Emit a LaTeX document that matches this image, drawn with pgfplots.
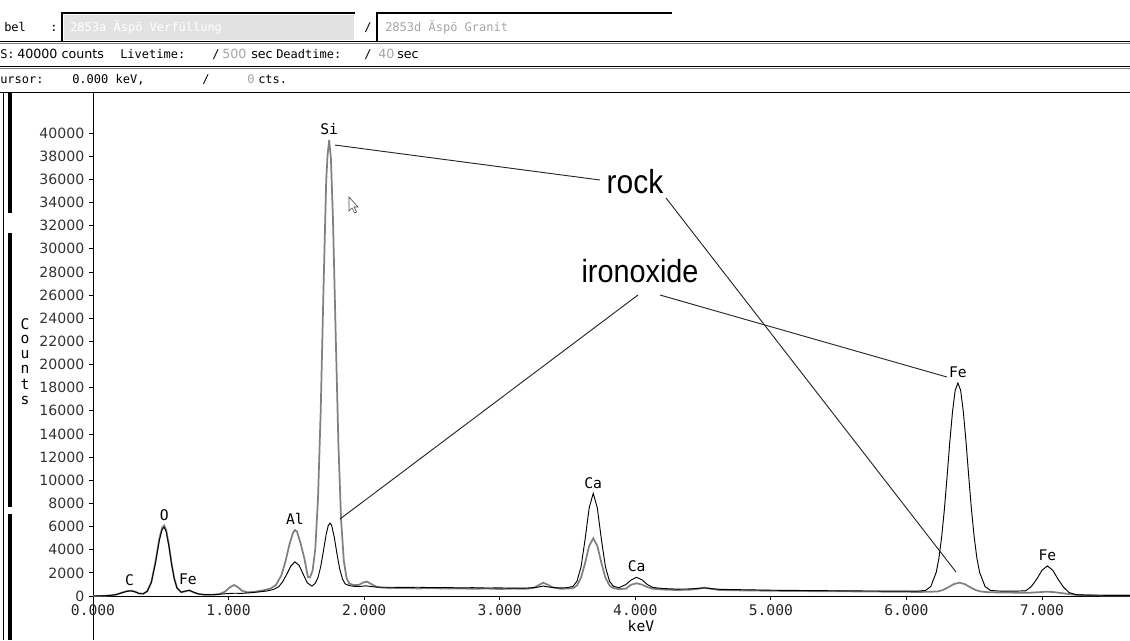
\documentclass[border=0pt]{standalone}
\usepackage{pgfplots}
\pgfplotsset{compat=1.18}
\usepackage{fontspec}
\setmainfont{DejaVu Sans}
\newfontfamily\mono{DejaVu Sans Mono}
\newfontfamily\arialf{Liberation Sans}
\definecolor{rockgray}{RGB}{128,128,128}
\definecolor{boxgray}{RGB}{226,226,226}
\definecolor{txtgray}{RGB}{165,165,165}
\newcommand{\hdr}{\mono\fontsize{9}{10}\selectfont}
\newcommand{\hdrs}{\fontsize{9.5}{10}\selectfont}
\newcommand{\pk}{\mono\fontsize{11}{12}\selectfont}

\begin{document}
\begin{tikzpicture}
\useasboundingbox (0,0) rectangle (847.5pt,-480pt);

% ---------- window header and frame (pixel units, y downward) ----------
\begin{scope}[x=0.75pt,y=-0.75pt]
  % label fields
  \fill[boxgray] (64,15) rectangle (354,40);
  \draw[line width=1.2pt] (62,41) -- (62,13) -- (355,13);
  \draw[line width=1.2pt] (377,41) -- (377,13) -- (672,13);
  \node[anchor=base west, inner sep=0, font=\hdr] at (4,31) {bel};
  \node[anchor=base west, inner sep=0, font=\hdr] at (50,31) {:};
  \node[anchor=base west, inner sep=0, font=\hdr, white] at (70,31) {2853a Äspö Verfüllung};
  \node[anchor=base west, inner sep=0, font=\hdr] at (364,31) {/};
  \node[anchor=base west, inner sep=0, font=\hdr, txtgray] at (385,31) {2853d Äspö Granit};
  % separators
  \draw[line width=0.9pt] (0,41.5) -- (1130,41.5);
  \draw[line width=0.75pt, gray] (0,43) -- (1130,43);
  \draw[line width=0.9pt] (0,66.5) -- (1130,66.5);
  \draw[line width=0.75pt, gray] (0,68) -- (1130,68);
  \draw[line width=0.75pt] (0,92) -- (1130,92);
  % status rows
  \node[anchor=base west, inner sep=0, font=\hdr] at (0,58) {S:};
  \node[anchor=base west, inner sep=0, font=\hdrs] at (17,58) {40000 counts};
  \node[anchor=base west, inner sep=0, font=\hdr] at (120,58) {Livetime:};
  \node[anchor=base west, inner sep=0, font=\hdr] at (212,58) {/};
  \node[anchor=base west, inner sep=0, font=\hdrs, txtgray] at (222,58) {500};
  \node[anchor=base west, inner sep=0, font=\hdrs] at (251,58) {sec};
  \node[anchor=base west, inner sep=0, font=\hdr] at (276,58) {Deadtime:};
  \node[anchor=base west, inner sep=0, font=\hdr] at (364,58) {/};
  \node[anchor=base west, inner sep=0, font=\hdrs, txtgray] at (378,58) {40};
  \node[anchor=base west, inner sep=0, font=\hdrs] at (397,58) {sec};
  \node[anchor=base west, inner sep=0, font=\hdr] at (0,83) {ursor:};
  \node[anchor=base west, inner sep=0, font=\hdr] at (72,83) {0.000 keV,};
  \node[anchor=base west, inner sep=0, font=\hdr] at (202,83) {/};
  \node[anchor=base west, inner sep=0, font=\hdr, txtgray] at (247,83) {0};
  \node[anchor=base west, inner sep=0, font=\hdr] at (258,83) {cts.};
  % left frame bars
  \draw[line width=0.75pt] (3.5,93) -- (3.5,640);
  \draw[line width=2.6pt] (10,93) -- (10,213);
  \draw[line width=2.6pt] (10,233) -- (10,507);
  \draw[line width=2.6pt] (10,514) -- (10,640);
  % y axis continues below the plot
  \draw[line width=0.75pt] (93,596) -- (93,640);
  % axis title, one letter per line
  \foreach \c [count=\i from 0] in {C,o,u,n,t,s}
    \node[font=\pk, inner sep=0] at (25,324+15.2*\i) {\c};
\end{scope}

% ---------- spectrum ----------
\begin{axis}[
  at={(69.75pt,-447pt)}, anchor=south west,
  scale only axis, width=777.8pt, height=377.2pt,
  xmin=0, xmax=7.65, ymin=0, ymax=43450,
  axis x line*=bottom, axis y line*=left,
  axis line style={line width=0.75pt, black},
  clip mode=individual,
  scaled y ticks=false, scaled x ticks=false,
  tick align=outside, major tick length=3pt,
  tick style={line width=0.6pt, black},
  xtick={0,1,2,3,4,5,6,7},
  xticklabels={0.000,1.000,2.000,3.000,4.000,5.000,6.000,7.000},
  xticklabel style={font=\pk, black!85},
  ytick={0,2000,...,40000},
  yticklabels={0,2000,4000,6000,8000,10000,12000,14000,16000,18000,20000,22000,24000,26000,28000,30000,32000,34000,36000,38000,40000},
  yticklabel style={font=\fontsize{10.6}{12}\selectfont, black!80},
]
% rock
\addplot[rockgray, line width=1.3pt] coordinates {
(0.00,0) (0.06,10) (0.12,40) (0.17,120) (0.21,280) (0.25,420) (0.28,470) (0.31,380)
(0.34,220) (0.37,200) (0.40,420) (0.43,1200) (0.46,2900) (0.49,5000) (0.51,5900)
(0.525,6100) (0.54,5700) (0.56,4400) (0.58,2800) (0.60,1500) (0.62,700) (0.65,330)
(0.68,400) (0.71,480) (0.74,330) (0.78,170) (0.82,120) (0.88,110) (0.93,160)
(0.97,350) (1.01,750) (1.04,950) (1.07,750) (1.10,450) (1.14,320) (1.20,380)
(1.26,500) (1.31,650) (1.35,950) (1.39,1800) (1.42,3000) (1.45,4500) (1.475,5450)
(1.49,5700) (1.505,5550) (1.53,4600) (1.56,3200) (1.585,1650) (1.60,1600)
(1.62,2200) (1.64,4100) (1.66,8500) (1.68,16150) (1.70,26400) (1.72,35800)
(1.73,38050) (1.742,39400) (1.755,37800) (1.77,32600) (1.79,22700) (1.81,13200)
(1.83,6600) (1.85,3060) (1.87,1570) (1.89,1070) (1.92,950) (1.96,950) (1.99,1150)
(2.02,1250) (2.05,1050) (2.09,800) (2.14,720) (2.20,680) (2.30,700) (2.40,650)
(2.50,690) (2.60,640) (2.70,660) (2.80,620) (2.90,650) (3.00,600) (3.10,640)
(3.20,620) (3.25,700) (3.29,950) (3.32,1150) (3.35,1000) (3.39,750) (3.45,620)
(3.50,650) (3.54,670) (3.57,907) (3.60,1580) (3.63,2860) (3.66,4330) (3.69,4985)
(3.72,4330) (3.75,2860) (3.78,1580) (3.81,907) (3.84,670) (3.88,600) (3.93,630)
(3.97,980) (4.01,1100) (4.05,980) (4.09,760) (4.13,630) (4.20,560) (4.30,520)
(4.40,540) (4.46,620) (4.51,720) (4.56,620) (4.62,520) (4.70,500) (4.80,480)
(4.90,470) (5.00,450) (5.20,430) (5.40,410) (5.60,400) (5.80,380) (6.00,360)
(6.10,350) (6.20,380) (6.23,390) (6.27,520) (6.31,760) (6.35,1030) (6.39,1150)
(6.43,1030) (6.47,760) (6.51,520) (6.55,390) (6.60,330) (6.70,300) (6.80,290)
(6.90,280) (6.98,330) (7.04,380) (7.10,320) (7.18,200) (7.25,100) (7.35,60)
(7.50,50) (7.65,40)
};
% ironoxide
\addplot[black, line width=0.7pt] coordinates {
(0.00,0) (0.06,10) (0.12,40) (0.17,120) (0.21,270) (0.25,400) (0.28,440) (0.31,360)
(0.34,210) (0.37,190) (0.40,400) (0.43,1150) (0.46,2800) (0.49,4850) (0.51,5750)
(0.525,5950) (0.54,5550) (0.56,4300) (0.58,2700) (0.60,1450) (0.62,680) (0.65,330)
(0.68,420) (0.71,500) (0.74,340) (0.78,170) (0.82,120) (0.88,110) (0.93,150)
(0.98,200) (1.04,240) (1.10,230) (1.16,280) (1.22,350) (1.28,430) (1.33,560)
(1.37,800) (1.40,1250) (1.43,1900) (1.46,2600) (1.49,2950) (1.52,2650) (1.55,1900)
(1.58,1150) (1.615,850) (1.64,1110) (1.66,1610) (1.68,2550) (1.70,3910) (1.72,5330)
(1.735,6070) (1.748,6300) (1.76,6110) (1.78,5070) (1.80,3620) (1.82,2330)
(1.84,1480) (1.86,1050) (1.89,900) (1.93,830) (1.97,820) (2.01,880) (2.05,820)
(2.10,760) (2.20,760) (2.30,740) (2.40,760) (2.50,720) (2.60,740) (2.70,700)
(2.80,720) (2.90,690) (3.00,700) (3.10,680) (3.20,690) (3.27,740) (3.32,860)
(3.37,760) (3.43,700) (3.50,720) (3.54,830) (3.57,1270) (3.60,2520) (3.63,4900)
(3.66,7620) (3.69,8870) (3.72,7620) (3.75,4900) (3.78,2520) (3.81,1270) (3.84,830)
(3.88,720) (3.93,985) (3.97,1390) (4.01,1615) (4.05,1390) (4.09,985) (4.13,740)
(4.20,650) (4.30,600) (4.40,610) (4.46,660) (4.51,700) (4.56,640) (4.62,580)
(4.70,560) (4.80,540) (4.90,520) (5.00,500) (5.20,480) (5.40,460) (5.60,440)
(5.80,430) (6.00,420) (6.08,420) (6.14,480) (6.18,820) (6.22,2050) (6.24,3270)
(6.26,5100) (6.28,7460) (6.30,10300) (6.32,13300) (6.34,15900) (6.36,17780)
(6.38,18400) (6.40,17780) (6.42,15900) (6.44,13300) (6.46,10300) (6.48,7460)
(6.50,5100) (6.52,3270) (6.54,2050) (6.58,820) (6.62,480) (6.70,420) (6.80,420)
(6.88,450) (6.92,800) (6.96,1430) (7.00,2220) (7.04,2600) (7.08,2220) (7.12,1430)
(7.16,750) (7.20,300) (7.25,120) (7.35,70) (7.50,60) (7.65,50)
};
% element labels
\node[font=\pk, anchor=base, yshift=4pt] at (axis cs:1.742,39400) {Si};
\node[font=\pk, anchor=base, yshift=4pt] at (axis cs:0.525,6100) {O};
\node[font=\pk, anchor=base, yshift=4pt] at (axis cs:1.49,5700) {Al};
\node[font=\pk, anchor=base, yshift=4pt] at (axis cs:0.27,470) {C};
\node[font=\pk, anchor=base, yshift=4pt] at (axis cs:0.70,500) {Fe};
\node[font=\pk, anchor=base, yshift=4pt] at (axis cs:3.69,8870) {Ca};
\node[font=\pk, anchor=base, yshift=4pt] at (axis cs:4.01,1615) {Ca};
\node[font=\pk, anchor=base, yshift=4pt] at (axis cs:6.38,18400) {Fe};
\node[font=\pk, anchor=base, yshift=4pt] at (axis cs:7.04,2600) {Fe};
% sample annotations
\draw[black!85, line width=0.7pt] (axis cs:1.785,38960) -- (axis cs:3.740,35940);
\draw[black!85, line width=0.7pt] (axis cs:4.227,34385) -- (axis cs:6.366,2073);
\draw[black!85, line width=0.7pt] (axis cs:4.020,26005) -- (axis cs:1.822,6652);
\draw[black!85, line width=0.7pt] (axis cs:4.182,26005) -- (axis cs:6.299,18920);
\node[font=\arialf\fontsize{25}{25}\selectfont, xscale=0.9] at (axis cs:3.998,35767) {rock};
\node[font=\arialf\fontsize{24}{24}\selectfont, xscale=0.9] at (axis cs:4.035,28078) {ironoxide};
\node[font=\pk] at (axis cs:4.042,0) [yshift=-22.5pt] {keV};
\end{axis}

% mouse pointer
\begin{scope}[x=0.75pt,y=-0.75pt]
  \filldraw[fill=white, draw=black!70, line width=0.5pt]
    (349,197) -- (349,211) -- (352,208) -- (354.5,213) -- (356.5,212) -- (354,207) -- (358,207) -- cycle;
\end{scope}
\end{tikzpicture}
\end{document}
